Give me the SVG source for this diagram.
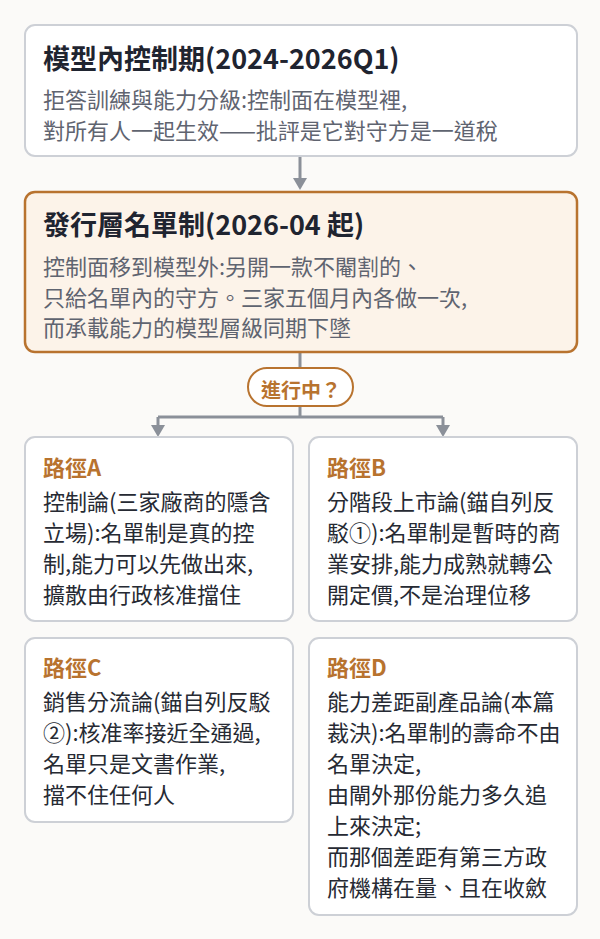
<svg xmlns="http://www.w3.org/2000/svg" width="600" height="939" viewBox="0 0 600 939">
<defs>
<style>
.bg{fill:#fbfaf8}
.card{fill:#ffffff;stroke:#cdd0d6;stroke-width:2}
.hl{fill:#fcf3e9;stroke:#b8732f;stroke-width:2.5}
.pill{fill:#ffffff;stroke:#b8732f;stroke-width:2}
.t{font-family:"Noto Sans CJK TC","Noto Sans CJK SC",sans-serif}
.h1{font-size:27px;font-weight:700;fill:#1f2430}
.sub{font-size:22px;fill:#5f6470}
.ct{font-size:22px;font-weight:700;fill:#b8732f}
.pt{font-size:20px;font-weight:700;fill:#b8732f}
.body{font-size:22px;fill:#262a33}
.conn{stroke:#8b9099;stroke-width:3;fill:none}
.head{fill:#8b9099}
</style>
</defs>
<rect class="bg" x="0" y="0" width="600" height="939"/>
<g id="connectors">
<line class="conn" x1="300" y1="157" x2="300" y2="179"/>
<path class="head" d="M293,178 L307,178 L300,190 Z"/>
<line class="conn" x1="300" y1="353" x2="300" y2="368"/>
<path class="conn" d="M300,406 V417 M158,417 H443 M158,417 V426 M443,417 V426"/>
<path class="head" d="M151,425 L165,425 L158,437 Z"/>
<path class="head" d="M436,425 L450,425 L443,437 Z"/>
</g>
<g id="node-inmodel">
<rect class="card" x="25" y="25" width="552" height="131" rx="10"/>
<text class="t h1" x="43" y="69">模型內控制期(2024-2026Q1)</text>
<text class="t sub" x="43" y="108">拒答訓練與能力分級:控制面在模型裡,</text>
<text class="t sub" x="43" y="139">對所有人一起生效——批評是它對守方是一道稅</text>
</g>
<g id="node-list">
<rect class="hl" x="25" y="192" width="552" height="160" rx="10"/>
<text class="t h1" x="43" y="235">發行層名單制(2026-04 起)</text>
<text class="t sub" x="43" y="275">控制面移到模型外:另開一款不閹割的、</text>
<text class="t sub" x="43" y="305.5">只給名單內的守方。三家五個月內各做一次,</text>
<text class="t sub" x="43" y="336">而承載能力的模型層級同期下墜</text>
</g>
<g id="node-q">
<rect class="pill" x="248" y="368" width="105" height="38" rx="19"/>
<text class="t pt" x="301" y="398" text-anchor="middle">進行中？</text>
</g>
<g id="node-a">
<rect class="card" x="25" y="437" width="268" height="184" rx="10"/>
<text class="t ct" x="43" y="476">路徑A</text>
<text class="t body" x="43" y="510">控制論(三家廠商的隱含</text>
<text class="t body" x="43" y="541">立場):名單制是真的控</text>
<text class="t body" x="43" y="572">制,能力可以先做出來,</text>
<text class="t body" x="43" y="603">擴散由行政核准擋住</text>
</g>
<g id="node-b">
<rect class="card" x="309" y="437" width="268" height="184" rx="10"/>
<text class="t ct" x="327" y="476">路徑B</text>
<text class="t body" x="327" y="510">分階段上市論(錨自列反</text>
<text class="t body" x="327" y="541">駁①):名單制是暫時的商</text>
<text class="t body" x="327" y="572">業安排,能力成熟就轉公</text>
<text class="t body" x="327" y="603">開定價,不是治理位移</text>
</g>
<g id="node-c">
<rect class="card" x="25" y="638" width="268" height="184" rx="10"/>
<text class="t ct" x="43" y="676">路徑C</text>
<text class="t body" x="43" y="710">銷售分流論(錨自列反駁</text>
<text class="t body" x="43" y="741">②):核准率接近全通過,</text>
<text class="t body" x="43" y="772">名單只是文書作業,</text>
<text class="t body" x="43" y="803">擋不住任何人</text>
</g>
<g id="node-d">
<rect class="card" x="309" y="638" width="268" height="277" rx="10"/>
<text class="t ct" x="327" y="676">路徑D</text>
<text class="t body" x="327" y="710">能力差距副產品論(本篇</text>
<text class="t body" x="327" y="741">裁決):名單制的壽命不由</text>
<text class="t body" x="327" y="772">名單決定,</text>
<text class="t body" x="327" y="803">由閘外那份能力多久追</text>
<text class="t body" x="327" y="834">上來決定;</text>
<text class="t body" x="327" y="865">而那個差距有第三方政</text>
<text class="t body" x="327" y="896">府機構在量、且在收斂</text>
</g>
</svg>
